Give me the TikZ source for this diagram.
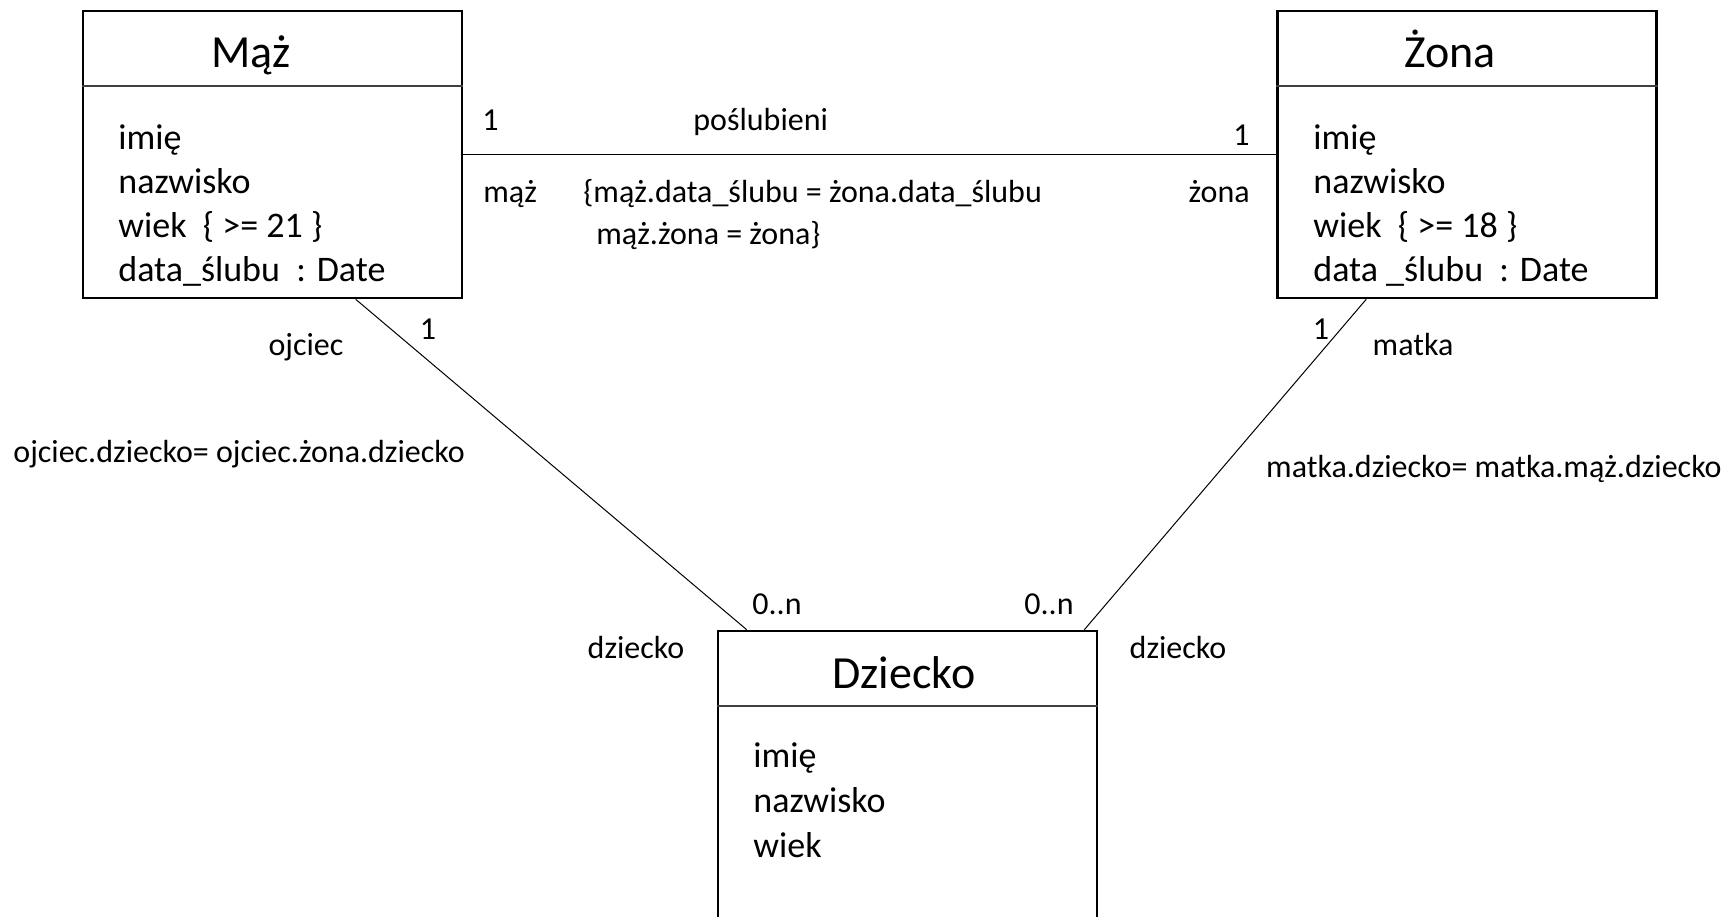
\documentclass[tikz,border=0pt]{standalone}
\usepackage{fontspec}
\setmainfont{Carlito}
\usetikzlibrary{calc}

\begin{document}
\begin{tikzpicture}[x=0.5pt, y=-0.5pt,
    klasa/.style={draw, line width=1.3pt, inner sep=0pt,
      minimum width=189.5pt, minimum height=143.5pt},
    kreska/.style={draw=black!75, line width=0.8pt},
    polaczenie/.style={draw, line width=0.5pt},
    tytul/.style={anchor=base, inner sep=0pt, yshift=-1pt, font=\fontsize{23}{28}\selectfont},
    atrybut/.style={anchor=base west, inner sep=0pt, yshift=-1pt, font=\fontsize{18}{22}\selectfont},
    etykieta/.style={inner sep=0pt, yshift=-1pt, font=\fontsize{16}{19}\selectfont}]
    \def \linia {76} % title bar height
    \clip (0,0) rectangle (1727,916);

    % classes
    \node[klasa] (maz) at (272.5,154.5) {};
    \node[klasa] (zona) at (1467,154.5) {};
    \node[klasa, minimum height=149.5pt] (dziecko) at (907.5,780.5) {};
    \foreach \k in {maz,zona,dziecko}
      \draw[kreska] ($(\k.north west)+(0,\linia)$) -- ($(\k.north east)+(0,\linia)$);

    \node[tytul] (maz-t) at (251,65) {Mąż};
    \node[tytul] (zona-t) at (1450,65) {Żona};
    \node[tytul] (dziecko-t) at (904,686) {Dziecko};

    \foreach \a [count=\i] in {imię, nazwisko, {wiek\ \ \{ >= 21 \}}, {data\_ślubu\ \ : Date}}
      \node[atrybut] (maz-\i) at (118, 102.7+44.3*\i) {\a};
    \foreach \a [count=\i] in {imię, nazwisko, {wiek\ \ \{ >= 18 \}}, {data \_ślubu\ \ : Date}}
      \node[atrybut] (zona-\i) at (1313, 102.7+44.3*\i) {\a};
    \foreach \a [count=\i] in {imię, nazwisko, wiek}
      \node[atrybut] (dziecko-\i) at (753, 720+45*\i) {\a};

    % associations
    \draw[polaczenie] (maz) -- (zona);
    \draw[polaczenie] ($(maz.south west)+(274,0)$) -- ($(dziecko.north west)+(30,0)$);
    \draw[polaczenie] ($(zona.south west)+(90,0)$) -- ($(dziecko.north east)+(-14,0)$);

    \node[etykieta, anchor=base west] (maz-kr) at (482,128) {1};
    \node[etykieta, anchor=base west] (slub) at (693,128) {poślubieni};
    \node[etykieta, anchor=base east] (zona-kr) at (1250,143) {1};
    \node[etykieta, anchor=base west] (rola-maz) at (483,200) {mąż};
    \node[etykieta, anchor=base east] (rola-zona) at (1250,200) {żona};
    \node[etykieta, anchor=base west] (war-1) at (583,200) {\{mąż.data\_ślubu = żona.data\_ślubu};
    \node[etykieta, anchor=base west] (war-2) at (596,242) {mąż.żona = żona\}};

    \node[etykieta, anchor=base] (rola-ojciec) at (306,353) {ojciec};
    \node[etykieta, anchor=base] (ojciec-kr) at (428,337) {1};
    \node[etykieta, anchor=base west] (war-ojciec) at (13,460) {ojciec.dziecko= ojciec.żona.dziecko};
    \node[etykieta, anchor=base] (matka-kr) at (1321,337) {1};
    \node[etykieta, anchor=base] (rola-matka) at (1413,353) {matka};
    \node[etykieta, anchor=base east] (war-matka) at (1722,475) {matka.dziecko= matka.mąż.dziecko};

    \node[etykieta, anchor=base] (dz-kr-1) at (777,612) {0..n};
    \node[etykieta, anchor=base] (dz-kr-2) at (1049,612) {0..n};
    \node[etykieta, anchor=base] (rola-dz-1) at (636,656) {dziecko};
    \node[etykieta, anchor=base] (rola-dz-2) at (1178,656) {dziecko};
\end{tikzpicture}
\end{document}
